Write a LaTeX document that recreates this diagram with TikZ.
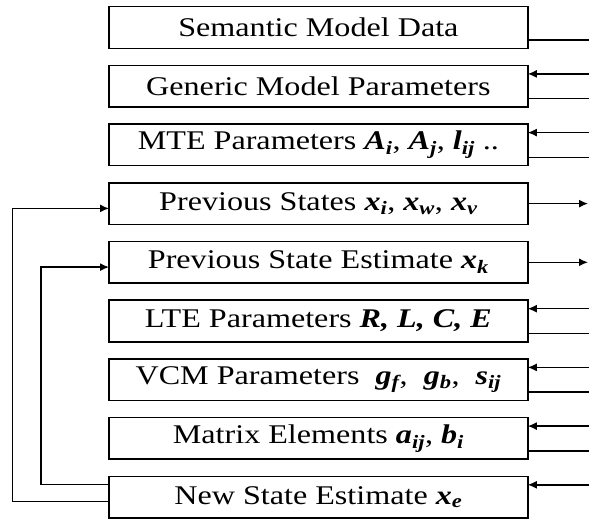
\documentclass[tikz,border=0pt]{standalone}
\usepackage{fontspec}
\setmainfont{Liberation Serif}[FakeStretch=1.19]
\usetikzlibrary{arrows.meta,positioning}

\newcommand{\vsym}[2]{\textbf{\textit{#1\textsubscript{#2}}}}

\tikzset{
  blk/.style={draw, line width=1.5pt, minimum width=418.7pt, minimum height=41.6pt,
    inner sep=0pt, outer sep=0pt, font=\fontsize{27}{30}\selectfont},
  link/.style={line width=1.5pt},
  tip/.style={line width=1.5pt, -{Latex[length=9pt,width=8pt]}},
}

\begin{document}
\begin{tikzpicture}[x=1pt,y=-1pt]
\useasboundingbox (0,0) rectangle (589,519);

\node[blk] (sem) at (318.4,27.5) {Semantic Model Data};
\node[blk, below=17.1pt of sem] (gen) {Generic Model Parameters};
\node[blk, below=17.1pt of gen] (mte) {MTE Parameters \vsym{A}{i}, \vsym{A}{j}, \vsym{l}{ij} ..};
\node[blk, below=17.1pt of mte] (prs) {Previous States \vsym{x}{i}, \vsym{x}{w}, \vsym{x}{v}};
\node[blk, below=17.1pt of prs] (pse) {Previous State Estimate \vsym{x}{k}};
\node[blk, below=17.1pt of pse] (lte) {LTE Parameters \textbf{\textit{R, L, C, E}}};
\node[blk, below=17.1pt of lte] (vcm) {VCM Parameters\ \ \vsym{g}{f},\ \ \vsym{g}{b},\ \ \vsym{s}{ij}};
\node[blk, below=17.1pt of vcm] (mat) {Matrix Elements \vsym{a}{ij}, \vsym{b}{i}};
\node[blk, below=17.1pt of mat] (nse) {New State Estimate \vsym{x}{e}};

% right side
\draw[link] ([yshift=8.3pt]sem.south east) -- ++(61.3,0);
\draw[tip] ([xshift=61.3pt,yshift=-8.5pt]gen.north east) -- ([yshift=-8.5pt]gen.north east);
\draw[link] ([yshift=8.3pt]gen.south east) -- ++(61.3,0);
\draw[tip] ([xshift=61.3pt,yshift=-8.5pt]mte.north east) -- ([yshift=-8.5pt]mte.north east);
\draw[link] ([yshift=8.3pt]mte.south east) -- ++(61.3,0);
\draw[tip] (prs.east) -- ++(60.3,0);
\draw[tip] (pse.east) -- ++(60.3,0);
\draw[tip] ([xshift=61.3pt,yshift=-8.5pt]lte.north east) -- ([yshift=-8.5pt]lte.north east);
\draw[link] ([yshift=8.3pt]lte.south east) -- ++(61.3,0);
\draw[tip] ([xshift=61.3pt,yshift=-8.5pt]vcm.north east) -- ([yshift=-8.5pt]vcm.north east);
\draw[link] ([yshift=8.3pt]vcm.south east) -- ++(61.3,0);
\draw[tip] ([xshift=61.3pt,yshift=-8.5pt]mat.north east) -- ([yshift=-8.5pt]mat.north east);
\draw[link] ([yshift=8.3pt]mat.south east) -- ++(61.3,0);
\draw[tip] ([xshift=61.3pt,yshift=-8.5pt]nse.north east) -- ([yshift=-8.5pt]nse.north east);

% feedback loops
\draw[tip] ([yshift=-4.6pt]nse.west) -- ++(-96.7,0) |- ([yshift=-4.8pt]prs.west);
\draw[tip] ([yshift=-8pt]nse.north west) -- ++(-68,0) |- ([yshift=-4.8pt]pse.west);

\end{tikzpicture}
\end{document}
